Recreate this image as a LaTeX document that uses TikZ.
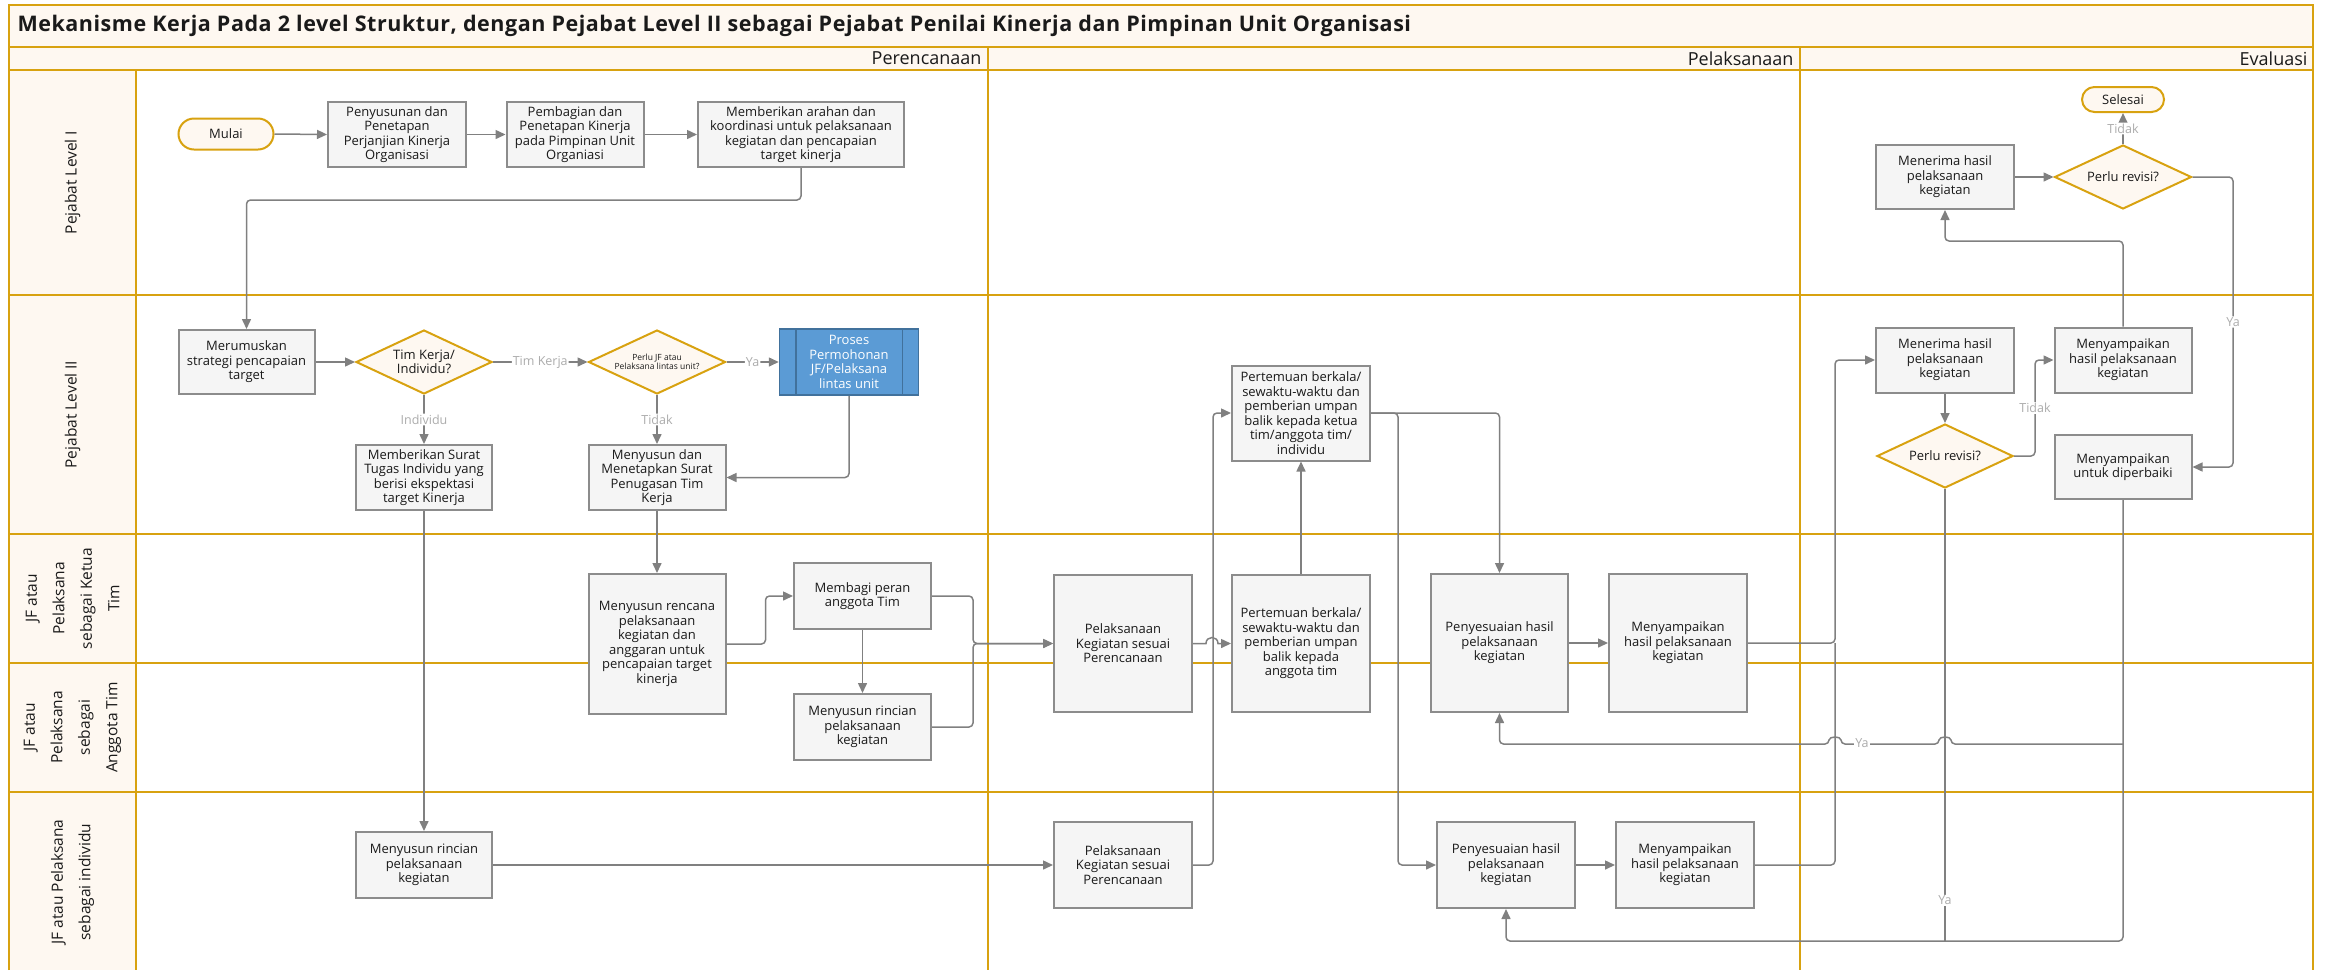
\documentclass[tikz,border=0pt]{standalone}
\usepackage{fontspec}
\setmainfont{Open Sans}
\newfontfamily\titlefont{Open Sans}[LetterSpace=2.5]
\usetikzlibrary{shapes.geometric,arrows.meta,calc}

\definecolor{gold}{RGB}{216,162,16}
\definecolor{cream}{RGB}{254,248,241}
\definecolor{boxfill}{RGB}{245,245,245}
\definecolor{boxline}{RGB}{140,140,140}
\definecolor{wiregray}{RGB}{128,128,128}
\definecolor{lbltext}{RGB}{172,172,172}
\definecolor{procfill}{RGB}{91,155,213}
\definecolor{procline}{RGB}{65,113,156}
\definecolor{ink}{RGB}{26,26,26}

\tikzset{
  lane/.style={draw=gold, line width=2.5pt},
  boxfont/.style={font=\fontsize{13}{14.5}\selectfont},
  stepbox/.style={rectangle, draw=boxline, fill=boxfill, line width=2pt,
    inner sep=0pt, align=center, text=ink, boxfont},
  decision/.style={diamond, draw=gold, fill=cream, line width=2pt,
    inner sep=0pt, aspect=2.1, align=center, text=ink, boxfont},
  terminal/.style={rectangle, draw=gold, fill=cream, line width=2pt,
    inner sep=0pt, align=center, text=ink, boxfont},
  procbox/.style={rectangle, draw=procline, fill=procfill, line width=1.5pt,
    inner sep=0pt, align=center, text=white, boxfont},
  lanelabel/.style={rotate=90, align=center, text=ink,
    font=\fontsize{15.5}{27.5}\selectfont},
  phaselabel/.style={anchor=east, text=ink, font=\fontsize{18}{20}\selectfont},
  flow/.style={draw=wiregray, line width=1.5pt, rounded corners=4pt,
    -{Triangle[length=10pt,width=9pt]}},
  merge/.style={draw=wiregray, line width=1.5pt, rounded corners=4pt},
  flowlabel/.style={fill=white, text=lbltext, inner sep=1pt,
    font=\fontsize{12.5}{13}\selectfont},
}

\begin{document}
\begin{tikzpicture}[x=1pt,y=-1pt]
\useasboundingbox (0,0) rectangle (2331,970);

% ---- swimlane frame ----
\fill[cream] (9,5) rectangle (2313,70);
\fill[cream] (9,70) rectangle (136,970);
\draw[lane] (9,970) -- (9,5) -- (2313,5) -- (2313,970);
\draw[lane] (9,47) -- (2313,47);
\draw[lane] (9,70) -- (2313,70);
\foreach \yy in {295,534,663,792} \draw[lane] (9,\yy) -- (2313,\yy);
\draw[lane] (136,70) -- (136,970);
\draw[lane] (988,47) -- (988,970);
\draw[lane] (1800,47) -- (1800,970);

\node[anchor=west, text=ink, font=\titlefont\bfseries\fontsize{21.5}{24}\selectfont] (title) at (14,26)
  {Mekanisme Kerja Pada 2 level Struktur, dengan Pejabat Level II sebagai Pejabat Penilai Kinerja dan Pimpinan Unit Organisasi};

\node[phaselabel] (ph1) at (985,58.5) {Perencanaan};
\node[phaselabel] (ph2) at (1797,58.5) {Pelaksanaan};
\node[phaselabel] (ph3) at (2311,58.5) {Evaluasi};

\node[lanelabel] (ln1) at (72.5,182.5) {Pejabat Level I};
\node[lanelabel] (ln2) at (72.5,414.5) {Pejabat Level II};
\node[lanelabel] (ln3) at (72.5,598.5) {JF atau\\Pelaksana\\sebagai Ketua\\Tim};
\node[lanelabel] (ln4) at (72.5,727.5) {JF atau\\Pelaksana\\sebagai\\Anggota Tim};
\node[lanelabel] (ln5) at (72.5,882) {JF atau Pelaksana\\sebagai individu};

% ---- Pejabat Level I ----
\node[terminal, minimum width=95pt, minimum height=31pt, rounded corners=15.5pt] (mulai) at (226,134) {Mulai};
\node[stepbox, minimum width=138pt, minimum height=65pt] (susun) at (397,134.5)
  {Penyusunan dan\\Penetapan\\Perjanjian Kinerja\\Organisasi};
\node[stepbox, minimum width=137pt, minimum height=65pt] (bagi) at (575,134.5)
  {Pembagian dan\\Penetapan Kinerja\\pada Pimpinan Unit\\Organiasi};
\node[stepbox, minimum width=206pt, minimum height=65pt] (arahan) at (801,134.5)
  {Memberikan arahan dan\\koordinasi untuk pelaksanaan\\kegiatan dan pencapaian\\target kinerja};
\node[terminal, minimum width=82pt, minimum height=25pt, rounded corners=12.5pt] (selesai) at (2123,99.5) {Selesai};
\node[stepbox, minimum width=138pt, minimum height=64pt] (terima1) at (1945,177)
  {Menerima hasil\\pelaksanaan\\kegiatan};
\node[decision, minimum width=137pt, minimum height=64pt] (revisi1) at (2123,177) {Perlu revisi?};

% ---- Pejabat Level II ----
\node[stepbox, minimum width=136pt, minimum height=64pt] (rumus) at (246.5,362)
  {Merumuskan\\strategi pencapaian\\target};
\node[decision, minimum width=136pt, minimum height=64pt] (timq) at (424,362) {Tim Kerja/\\Individu?};
\node[decision, minimum width=137pt, minimum height=64pt, font=\fontsize{8.5}{9}\selectfont] (jfq) at (657,362)
  {Perlu JF atau\\Pelaksana lintas unit?};
\node[procbox, minimum width=139pt, minimum height=66pt] (proses) at (849,362)
  {Proses\\Permohonan\\JF/Pelaksana\\lintas unit};
\draw[procline, line width=1.5pt]
  ($(proses.north west)+(17,0)$) -- ($(proses.south west)+(17,0)$)
  ($(proses.north east)+(-17,0)$) -- ($(proses.south east)+(-17,0)$);
\node[stepbox, minimum width=136pt, minimum height=65pt] (surat) at (424,477.5)
  {Memberikan Surat\\Tugas Individu yang\\berisi ekspektasi\\target Kinerja};
\node[stepbox, minimum width=137pt, minimum height=65pt] (sprin) at (657,477.5)
  {Menyusun dan\\Menetapkan Surat\\Penugasan Tim\\Kerja};
\node[stepbox, minimum width=138pt, minimum height=95pt] (temu1) at (1301,413)
  {Pertemuan berkala/\\sewaktu-waktu dan\\pemberian umpan\\balik kepada ketua\\tim/anggota tim/\\individu};
\node[stepbox, minimum width=138pt, minimum height=65pt] (terima2) at (1945,360)
  {Menerima hasil\\pelaksanaan\\kegiatan};
\node[decision, minimum width=136pt, minimum height=64pt] (revisi2) at (1945,456) {Perlu revisi?};
\node[stepbox, minimum width=137pt, minimum height=65pt] (sampai3) at (2123,360)
  {Menyampaikan\\hasil pelaksanaan\\kegiatan};
\node[stepbox, minimum width=137pt, minimum height=64pt] (perbaiki) at (2123,467)
  {Menyampaikan\\untuk diperbaiki};

% ---- Ketua Tim / Anggota Tim ----
\node[stepbox, minimum width=137pt, minimum height=140pt] (rencana) at (657,644)
  {Menyusun rencana\\pelaksanaan\\kegiatan dan\\anggaran untuk\\pencapaian target\\kinerja};
\node[stepbox, minimum width=137pt, minimum height=66pt] (peran) at (862.5,596)
  {Membagi peran\\anggota Tim};
\node[stepbox, minimum width=137pt, minimum height=66pt] (rincianA) at (862.5,727)
  {Menyusun rincian\\pelaksanaan\\kegiatan};
\node[stepbox, minimum width=138pt, minimum height=137pt] (laksT) at (1123,643.5)
  {Pelaksanaan\\Kegiatan sesuai\\Perencanaan};
\node[stepbox, minimum width=138pt, minimum height=137pt] (temuA) at (1301,643.5)
  {Pertemuan berkala/\\sewaktu-waktu dan\\pemberian umpan\\balik kepada\\anggota tim};
\node[stepbox, minimum width=137pt, minimum height=138pt] (sesuaiT) at (1499.5,643)
  {Penyesuaian hasil\\pelaksanaan\\kegiatan};
\node[stepbox, minimum width=138pt, minimum height=138pt] (sampaiT) at (1678,643)
  {Menyampaikan\\hasil pelaksanaan\\kegiatan};

% ---- Individu ----
\node[stepbox, minimum width=136pt, minimum height=66pt] (rincianI) at (424,865)
  {Menyusun rincian\\pelaksanaan\\kegiatan};
\node[stepbox, minimum width=138pt, minimum height=86pt] (laksI) at (1123,865)
  {Pelaksanaan\\Kegiatan sesuai\\Perencanaan};
\node[stepbox, minimum width=138pt, minimum height=86pt] (sesuaiI) at (1506,865)
  {Penyesuaian hasil\\pelaksanaan\\kegiatan};
\node[stepbox, minimum width=138pt, minimum height=86pt] (sampaiI) at (1685,865)
  {Menyampaikan\\hasil pelaksanaan\\kegiatan};

% ---- helper points for shared routes ----
\coordinate (busE) at ($(terima2.west)+(-40,0)$);
\coordinate (yaT) at ($(perbaiki.south)+(0,244)$);
\coordinate (yaB) at ($(perbaiki.south)+(0,441)$);

% ---- connectors: perencanaan ----
\draw[flow] (mulai.east) -- (susun.west);
\draw[flow] (susun.east) -- (bagi.west);
\draw[flow] (bagi.east) -- (arahan.west);
\draw[flow] (arahan.south) -- ++(0,32) -| (rumus.north);
\draw[flow] (rumus.east) -- (timq.west);
\draw[flow] (timq.east) -- node[flowlabel]{Tim Kerja} (jfq.west);
\draw[flow] (jfq.east) -- node[flowlabel]{Ya} (proses.west);
\draw[flow] (timq.south) -- node[flowlabel]{Individu} (surat.north);
\draw[flow] (jfq.south) -- node[flowlabel]{Tidak} (sprin.north);
\draw[flow] (proses.south) |- (sprin.east);
\draw[flow] (sprin.south) -- (rencana.north);
\draw[flow] (surat.south) -- (rincianI.north);
\draw[flow] (rencana.east) -- ++(39,0) |- (peran.west);
\draw[flow] (peran.south) -- (rincianA.north);
\draw[flow] (peran.east) -- ++(41,0) |- (laksT.west);
\draw[flow] (rincianA.east) -- ++(41,0) |- (laksT.west);
\draw[flow] (rincianI.east) -- (laksI.west);

% ---- connectors: pelaksanaan ----
\draw[flow, sharp corners] (laksT.east)
  -- ($(laksT.east)!.5!(temuA.west)+(-6,0)$)
  .. controls +(0,-8) and +(0,-8) .. ($(laksT.east)!.5!(temuA.west)+(6,0)$)
  -- (temuA.west);
\draw[flow] (laksI.east) -- ++(20,0) |- (temu1.west);
\draw[flow] (temuA.north) -- (temu1.south);
\draw[flow] (temu1.east) -| (sesuaiT.north);
\draw[flow] (temu1.east) -- ++(27,0) |- (sesuaiI.west);
\draw[flow] (sesuaiT.east) -- (sampaiT.west);
\draw[flow] (sesuaiI.east) -- (sampaiI.west);
\draw[flow] (sampaiT.east) -- (sampaiT.east -| busE) |- (terima2.west);
\draw[merge] (sampaiI.east) -- (sampaiI.east -| busE) -- (sampaiT.east -| busE);

% ---- connectors: evaluasi ----
\draw[flow] (terima2.south) -- (revisi2.north);
\draw[flow] (revisi2.east) -- ++(21,0) |- node[flowlabel, pos=0.25]{Tidak} (sampai3.west);
\draw[flow] (sampai3.north) -- ++(0,-85.5) -| (terima1.south);
\draw[flow] (terima1.east) -- (revisi1.west);
\draw[flow] (revisi1.north) -- node[flowlabel]{Tidak} (selesai.south);
\draw[flow] (revisi1.east) -- ++(40.5,0) |- node[flowlabel, pos=0.25]{Ya} (perbaiki.east);
\draw[flow] (perbaiki.south) -- (yaB) -- (sesuaiI.south |- yaB) -- (sesuaiI.south);
\draw[merge] (revisi2.south) -- (revisi2.south |- yaB) node[flowlabel, pos=0.91]{Ya};
\draw[flow] (yaT)
  -- ($(revisi2.south |- yaT)+(6,0)$)
  .. controls +(0,-8) and +(0,-8) .. ($(revisi2.south |- yaT)+(-6,0)$)
  -- ($(busE |- yaT)+(6,0)$)
  .. controls +(0,-8) and +(0,-8) .. ($(busE |- yaT)+(-6,0)$)
  -- (sesuaiT.south |- yaT) -- (sesuaiT.south);
\node[flowlabel] (yaMid) at ($(busE |- yaT)+(27,-1)$) {Ya};
\end{tikzpicture}
\end{document}
